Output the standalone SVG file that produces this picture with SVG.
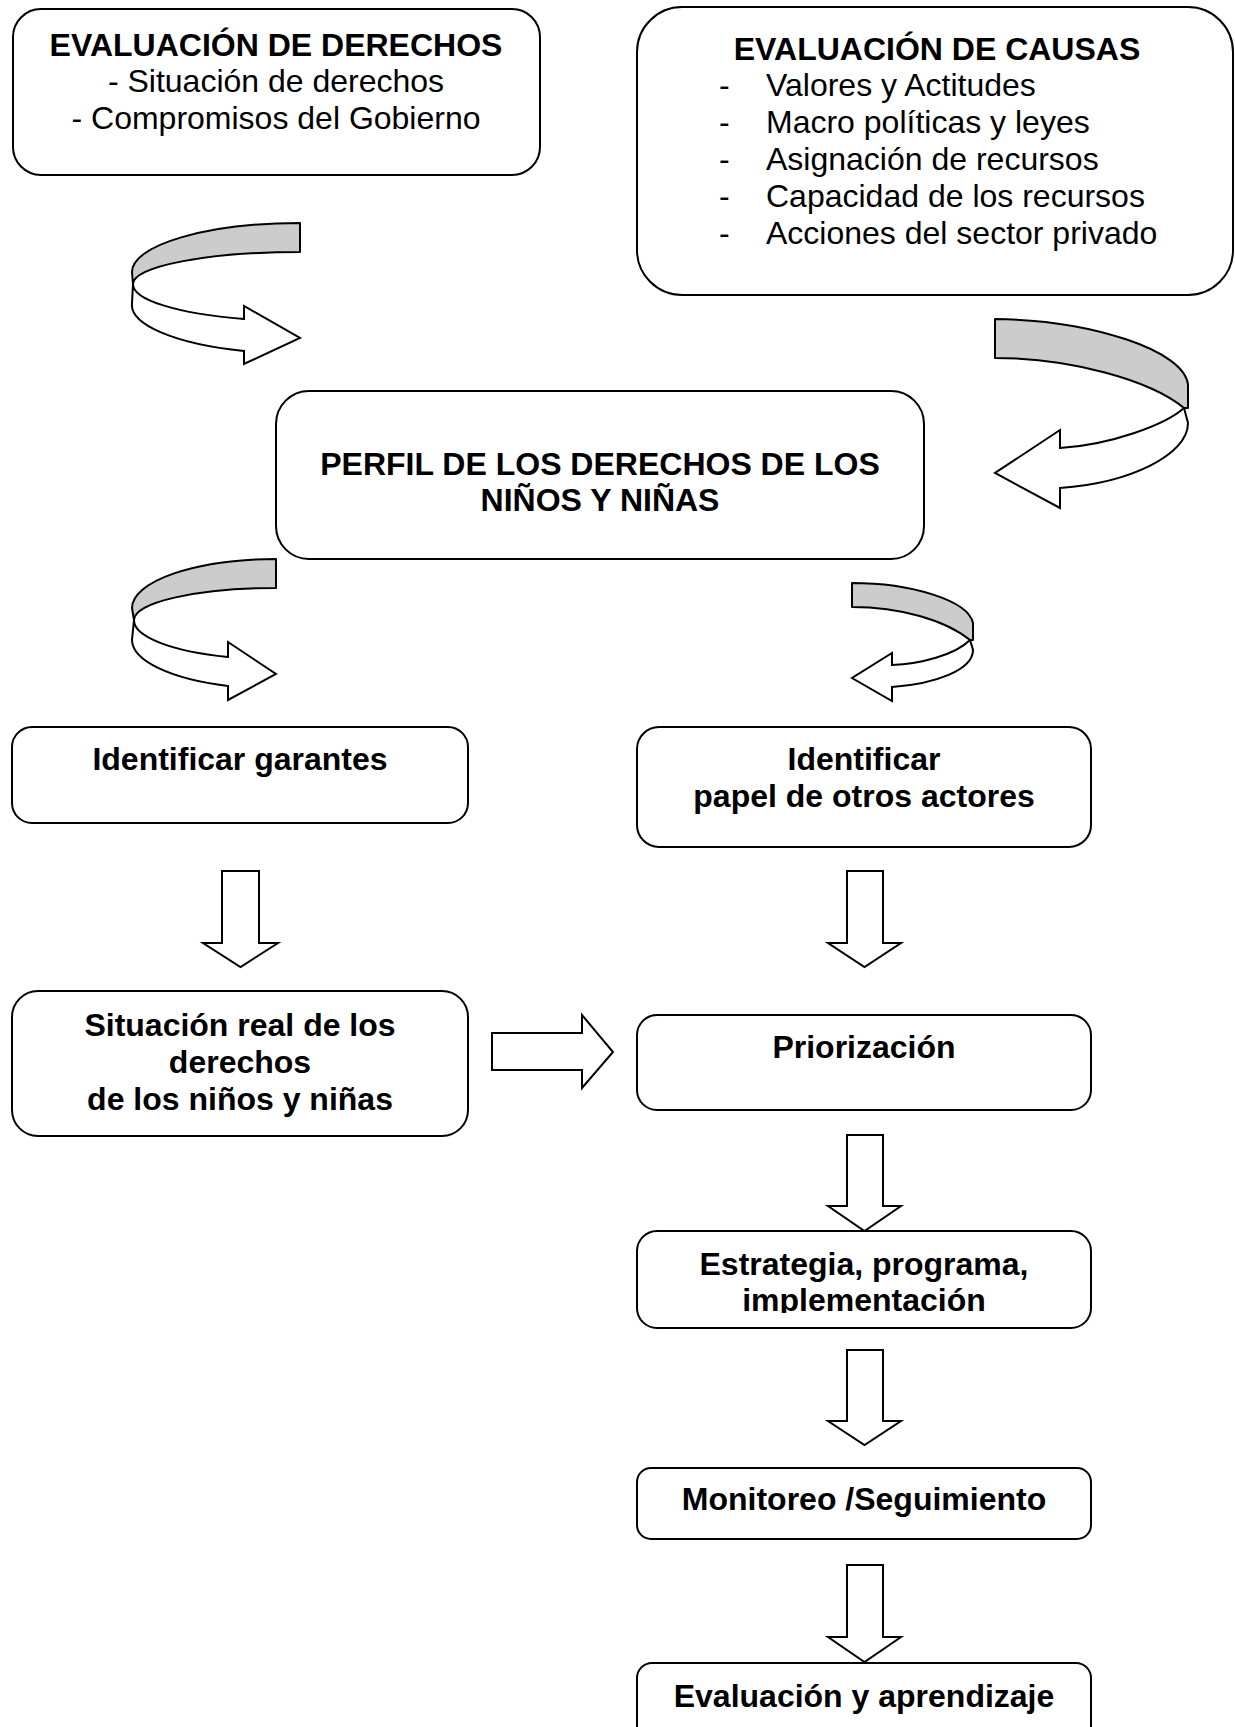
<svg xmlns="http://www.w3.org/2000/svg" width="1235" height="1727" viewBox="0 0 1235 1727">
<defs>
<style>
.box{fill:#fff;stroke:#000;stroke-width:2}
.arr{fill:#fff;stroke:#000;stroke-width:2;stroke-linejoin:miter}
.rib{fill:#ccc;stroke:#000;stroke-width:2;stroke-linejoin:round}
.b{font-family:"Liberation Sans",Arial,sans-serif;font-weight:bold;font-size:32px;text-anchor:middle;fill:#000}
.r{font-family:"Liberation Sans",Arial,sans-serif;font-size:32px;text-anchor:middle;fill:#000}
.rs{font-family:"Liberation Sans",Arial,sans-serif;font-size:32px;fill:#000}
</style>
<clipPath id="clipEst"><rect x="637" y="1231" width="454" height="82"/></clipPath>
</defs>
<rect width="1235" height="1727" fill="#fff"/>

<g id="connectors">
  <!-- curved arrow 1 -->
  <g id="curve1">
    <path class="arr" d="M133,284 A167,37 0 0 0 244,319 L244,306 L300,338 L244,364 L244,351 A168,49 0 0 1 132,303 Z"/>
    <path class="rib" d="M300,223 A168,49 0 0 0 132,272 L133,284 A167,32 0 0 1 300,252 Z"/>
  </g>
  <!-- curved arrow 2 -->
  <g id="curve2">
    <path class="arr" d="M1184,408 C1165,425 1110,445 1060,448 L1060,430 L995,473 L1060,508 L1060,488 C1130,483 1188,455 1188,423 Z"/>
    <path class="rib" d="M995,319 C1090,320 1185,350 1188,385 L1188,408 L1184,408 C1150,380 1070,358 995,358 Z"/>
  </g>
  <!-- curved arrow 3 -->
  <g id="curve3">
    <path class="arr" d="M134,620 A142,39 0 0 0 228,657 L228,642 L276,674 L228,700 L228,686 A144,49 0 0 1 132,640 Z"/>
    <path class="rib" d="M276,559 A144,49 0 0 0 132,608 L134,620 A142,32 0 0 1 276,588 Z"/>
  </g>
  <!-- curved arrow 4 -->
  <g id="curve4">
    <path class="arr" d="M970,640 C955,655 920,664 892,665 L892,653 L852,678 L892,701 L892,687 C935,684 973,670 973,650 Z"/>
    <path class="rib" d="M852,583 C910,583 968,600 973,623 L973,640 L970,640 C945,620 900,607 852,607 Z"/>
  </g>
  <!-- straight block arrows -->
  <path class="arr" d="M222,871 L259,871 L259,943 L278,943 L240.5,967 L203,943 L222,943 Z"/>
  <path class="arr" d="M847,871 L883,871 L883,943 L901,943 L864.5,967 L828,943 L847,943 Z"/>
  <path class="arr" d="M492,1033 L582,1033 L582,1015 L613,1052 L582,1088 L582,1070 L492,1070 Z"/>
  <path class="arr" d="M847,1135 L883,1135 L883,1206 L901,1206 L864.5,1231 L828,1206 L847,1206 Z"/>
  <path class="arr" d="M847,1350 L883,1350 L883,1421 L901,1421 L864.5,1445 L828,1421 L847,1421 Z"/>
  <path class="arr" d="M847,1565 L883,1565 L883,1637 L901,1637 L864.5,1662 L828,1637 L847,1637 Z"/>
</g>

<g id="node-eval-derechos">
  <rect class="box" x="13" y="9" width="527" height="166" rx="28" ry="28"/>
  <text class="b" x="276" y="56">EVALUACIÓN DE DERECHOS</text>
  <text class="r" x="276" y="92">- Situación de derechos</text>
  <text class="r" x="276" y="129">- Compromisos del Gobierno</text>
</g>

<g id="node-eval-causas">
  <rect class="box" x="637" y="7" width="596" height="288" rx="45" ry="45"/>
  <text class="b" x="937" y="60">EVALUACIÓN DE CAUSAS</text>
  <text class="rs" x="719" y="96">-</text>
  <text class="rs" x="766" y="96">Valores y Actitudes</text>
  <text class="rs" x="719" y="133">-</text>
  <text class="rs" x="766" y="133">Macro políticas y leyes</text>
  <text class="rs" x="719" y="170">-</text>
  <text class="rs" x="766" y="170">Asignación de recursos</text>
  <text class="rs" x="719" y="207">-</text>
  <text class="rs" x="766" y="207">Capacidad de los recursos</text>
  <text class="rs" x="719" y="244">-</text>
  <text class="rs" x="766" y="244">Acciones del sector privado</text>
</g>

<g id="node-perfil">
  <rect class="box" x="276" y="391" width="648" height="168" rx="33" ry="33"/>
  <text class="b" x="600" y="475">PERFIL DE LOS DERECHOS DE LOS</text>
  <text class="b" x="600" y="511">NIÑOS Y NIÑAS</text>
</g>

<g id="node-garantes">
  <rect class="box" x="12" y="727" width="456" height="96" rx="20" ry="20"/>
  <text class="b" x="240" y="770">Identificar garantes</text>
</g>

<g id="node-otros-actores">
  <rect class="box" x="637" y="727" width="454" height="120" rx="22" ry="22"/>
  <text class="b" x="864" y="770">Identificar</text>
  <text class="b" x="864" y="807">papel de otros actores</text>
</g>

<g id="node-situacion">
  <rect class="box" x="12" y="991" width="456" height="145" rx="26" ry="26"/>
  <text class="b" x="240" y="1036">Situación real de los</text>
  <text class="b" x="240" y="1073">derechos</text>
  <text class="b" x="240" y="1110">de los niños y niñas</text>
</g>

<g id="node-priorizacion">
  <rect class="box" x="637" y="1015" width="454" height="95" rx="20" ry="20"/>
  <text class="b" x="864" y="1058">Priorización</text>
</g>

<g id="node-estrategia">
  <rect class="box" x="637" y="1231" width="454" height="97" rx="20" ry="20"/>
  <g clip-path="url(#clipEst)">
    <text class="b" x="864" y="1275">Estrategia, programa,</text>
    <text class="b" x="864" y="1311">implementación</text>
  </g>
</g>

<g id="node-monitoreo">
  <rect class="box" x="637" y="1468" width="454" height="71" rx="14" ry="14"/>
  <text class="b" x="864" y="1510">Monitoreo /Seguimiento</text>
</g>

<g id="node-evaluacion">
  <rect class="box" x="637" y="1663" width="454" height="100" rx="15" ry="15"/>
  <text class="b" x="864" y="1707">Evaluación y aprendizaje</text>
</g>
</svg>
